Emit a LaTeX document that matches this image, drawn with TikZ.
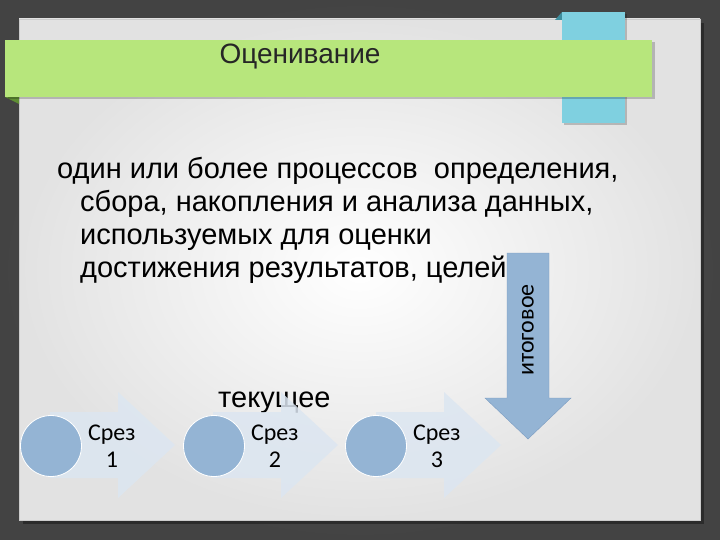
\documentclass[tikz,border=0pt]{standalone}
\usepackage{fontspec}
\setmainfont{Liberation Sans}
\newfontfamily\calibri{Carlito}
\usetikzlibrary{positioning}

\definecolor{outerbg}{HTML}{434343}
\definecolor{outerlight}{HTML}{5A5A5A}
\definecolor{paneledge}{HTML}{E2E2E2}
\definecolor{bandgreen}{HTML}{B7E67C}
\definecolor{folddark}{HTML}{5F8E34}
\definecolor{tabblue}{HTML}{7FD0E0}
\definecolor{tabdark}{HTML}{3E8E9E}
\definecolor{steel}{HTML}{94B4D4}
\definecolor{steeldark}{HTML}{7B9CC1}
\definecolor{pale}{HTML}{DCE6F1}

\tikzstyle{stage arrow}=[fill=pale, opacity=0.85]
\tikzstyle{stage disc}=[circle, fill=steel, draw=white, thick, minimum size=61pt, inner sep=0]
\tikzstyle{stage label}=[font=\calibri\fontsize{24}{27}\selectfont, align=center, inner sep=0]
\tikzstyle{body text}=[font=\fontsize{29}{33}\selectfont, align=left, inner sep=0]

\begin{document}
\begin{tikzpicture}[x=1pt, y=-1pt]
  \useasboundingbox (0,0) rectangle (720,540);
  % slide background
  \shade[inner color=outerlight, outer color=outerbg] (0,0) rectangle (720,540);
  \fill[black, opacity=0.35] (23,23) rectangle (704,524);
  \shade[inner color=white, outer color=paneledge] (19,19) rectangle (700,520);
  \draw[gray!40] (19,19) rectangle (700,520);

  % blue tab behind the title band
  \fill[tabdark] (555,20) -- (562,12) -- (562,20) -- cycle;
  \fill[black, opacity=0.2] (564,14) rectangle (627,125);
  \node[fill=tabblue, minimum width=63pt, minimum height=111pt, inner sep=0] (tab) at (593.5,67.5) {};

  % title band
  \fill[folddark] (5,97) -- (19,97) -- (19,104) -- cycle;
  \fill[black, opacity=0.2] (8,42) rectangle (655,99);
  \node[fill=bandgreen, minimum width=647pt, minimum height=57pt, inner sep=0] (band) at (328.5,68.5) {};
  \node[font=\fontsize{28}{32}\selectfont, text=black!85] (title) at (300,57) {Оценивание};

  % definition
  \node[body text, anchor=north west] (definition) at (57,157)
    {один или более процессов\ \ определения,\\
     \hspace*{23pt}сбора, накопления и анализа данных,\\
     \hspace*{23pt}используемых для оценки\\
     \hspace*{23pt}достижения результатов, целей};

  % final assessment arrow
  \draw[fill=steel, draw=steeldark] (507,253) -- (549,253) -- (549,398) -- (571,398)
    -- (528,439) -- (485,398) -- (507,398) -- cycle;
  \node[font=\calibri\fontsize{24}{28}\selectfont, rotate=90] (final) at (528,330) {итоговое};

  % current assessment
  \node[font=\fontsize{29}{33}\selectfont, anchor=base west, inner sep=0] (current) at (218,407) {текущее};

  \fill[stage arrow] (50,412) -- (118,412) -- (118,392) -- (175,445) -- (118,498) -- (118,478) -- (50,478) -- cycle;
  \fill[stage arrow] (213,412) -- (281,412) -- (281,392) -- (338,445) -- (281,498) -- (281,478) -- (213,478) -- cycle;
  \fill[stage arrow] (376,412) -- (444,412) -- (444,392) -- (501,445) -- (444,498) -- (444,478) -- (376,478) -- cycle;

  \node[stage disc] (disc1) at (51,446) {};
  \node[stage disc] (disc2) at (214,446) {};
  \node[stage disc] (disc3) at (376,446) {};
  \node[stage label, right=6pt of disc1] (cut1) {Срез\\1};
  \node[stage label, right=6pt of disc2] (cut2) {Срез\\2};
  \node[stage label, right=6pt of disc3] (cut3) {Срез\\3};
\end{tikzpicture}
\end{document}
